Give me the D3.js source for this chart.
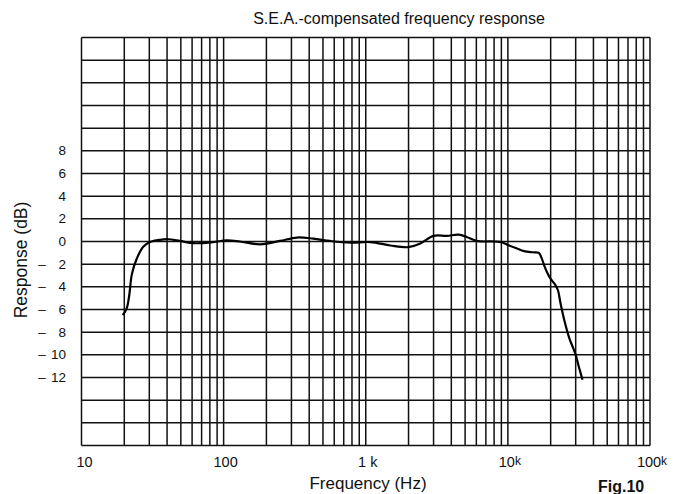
<!DOCTYPE html>
<html>
<head>
<meta charset="utf-8">
<script src="https://cdn.jsdelivr.net/npm/d3@7"></script>
<style>
  html, body { margin: 0; padding: 0; background: #fff; }
  svg { display: block; font-family: "Liberation Sans", Arial, Helvetica, sans-serif; }
</style>
</head>
<body>
<div id="chart"></div>
<script>
// response curve (Hz, dB)
const freqs = [19.5, 20.8, 21.7, 22.6, 24.5, 27.3, 30.3, 35.7, 40.8, 49.3, 61.3, 84.5, 105, 130, 180, 249, 328, 428, 560, 781, 1080, 1490, 1990, 2400, 3000, 3720, 4500, 5130, 6030, 8000, 9000, 10000, 11500, 13000, 15000, 16500, 17200, 18000, 19000, 20000, 21500, 22500, 23500, 25000, 27000, 29000, 30000, 31500, 33500];
const dbs = [-6.5, -5.9, -4.7, -2.9, -1.5, -0.45, -0.05, 0.15, 0.2, 0.05, -0.15, -0.05, 0.1, 0, -0.25, 0.05, 0.35, 0.25, 0.05, -0.1, -0.05, -0.35, -0.5, -0.2, 0.5, 0.5, 0.6, 0.4, 0.05, 0, -0.05, -0.3, -0.6, -0.85, -0.95, -1.0, -1.4, -2.1, -2.8, -3.3, -3.8, -4.3, -5.5, -7.0, -8.5, -9.5, -10.0, -11.0, -12.2];

const yTicks = [8, 6, 4, 2, 0, -2, -4, -6, -8, -10, -12];
const xTicks = [10, 100, 1000, 10000, 100000];
const xTickLabels = [["10", ""], ["100", ""], ["1 ", "k"], ["10", "k"], ["100", "k"]];

const titleText = "S.E.A.-compensated frequency response";
const xTitle = "Frequency (Hz)";
const yTitle = "Response (dB)";
const figText = "Fig.10";

const W = 684, H = 494;
const margin = { top: 37.5, left: 81.5, right: 34, bottom: 48.5 };
const width = W - margin.left - margin.right;
const height = H - margin.top - margin.bottom;

const svg = d3.select("#chart").append("svg")
  .attr("width", W)
  .attr("height", H);

const x = d3.scaleLog().domain([10, 100000]).range([0, width]);
const y = d3.scaleLinear().domain([-18, 18]).range([height, 0]);

const g = svg.append("g").attr("transform", `translate(${margin.left},${margin.top})`);

// grid: every 1..9 per decade, every 2 dB
const vLines = [];
for (let d = 10; d < 100000; d *= 10) {
  for (let m = 1; m < 10; m++) vLines.push(d * m);
}
vLines.push(100000);
const hLines = d3.range(-18, 19, 2);

g.selectAll("line.v").data(vLines).enter().append("line")
  .attr("class", "v")
  .attr("x1", d => x(d)).attr("x2", d => x(d))
  .attr("y1", 0).attr("y2", height)
  .attr("stroke", "#111").attr("stroke-width", 1.5);

g.selectAll("line.h").data(hLines).enter().append("line")
  .attr("class", "h")
  .attr("x1", 0).attr("x2", width)
  .attr("y1", d => y(d)).attr("y2", d => y(d))
  .attr("stroke", "#111").attr("stroke-width", 1.5);

// the response curve
const pts = freqs.map((f, i) => [f, dbs[i]]);
const line = d3.line()
  .x(d => x(d[0]))
  .y(d => y(d[1]))
  .curve(d3.curveCatmullRom.alpha(0.5));

g.append("path")
  .datum(pts)
  .attr("d", line)
  .attr("fill", "none")
  .attr("stroke", "#000")
  .attr("stroke-width", 2.2)
  .attr("stroke-linejoin", "round");

// y tick labels
const yl = svg.append("g").attr("font-size", 13.5).attr("fill", "#111");
yTicks.forEach(v => {
  const yy = margin.top + y(v) + 4.5;
  yl.append("text")
    .attr("x", 66).attr("y", yy)
    .attr("text-anchor", "end")
    .text(Math.abs(v));
  if (v < 0) {
    yl.append("text")
      .attr("x", 42).attr("y", yy)
      .attr("text-anchor", "middle")
      .text("–");
  }
});

// x tick labels
const xl = svg.append("g").attr("font-size", 14.5).attr("fill", "#111");
xTicks.forEach((v, i) => {
  const t = xl.append("text")
    .attr("x", margin.left + x(v) + (i === 0 ? 3 : 2))
    .attr("y", 467)
    .attr("text-anchor", "middle");
  t.append("tspan").text(xTickLabels[i][0]);
  if (xTickLabels[i][1]) {
    t.append("tspan")
      .attr("font-size", i === 2 ? 14.5 : 12)
      .attr("dy", i === 2 ? 0 : -2)
      .text(xTickLabels[i][1]);
  }
});

// titles
svg.append("text")
  .attr("x", 399).attr("y", 24)
  .attr("text-anchor", "middle")
  .attr("font-size", 16)
  .attr("fill", "#111")
  .text(titleText);

svg.append("text")
  .attr("x", 368).attr("y", 489)
  .attr("text-anchor", "middle")
  .attr("font-size", 17)
  .attr("fill", "#111")
  .text(xTitle);

svg.append("text")
  .attr("transform", "translate(27,260) rotate(-90)")
  .attr("text-anchor", "middle")
  .attr("font-size", 17.5)
  .attr("fill", "#111")
  .text(yTitle);

svg.append("text")
  .attr("x", 598).attr("y", 492)
  .attr("font-size", 16)
  .attr("font-weight", "bold")
  .attr("fill", "#111")
  .text(figText);
</script>
</body>
</html>
